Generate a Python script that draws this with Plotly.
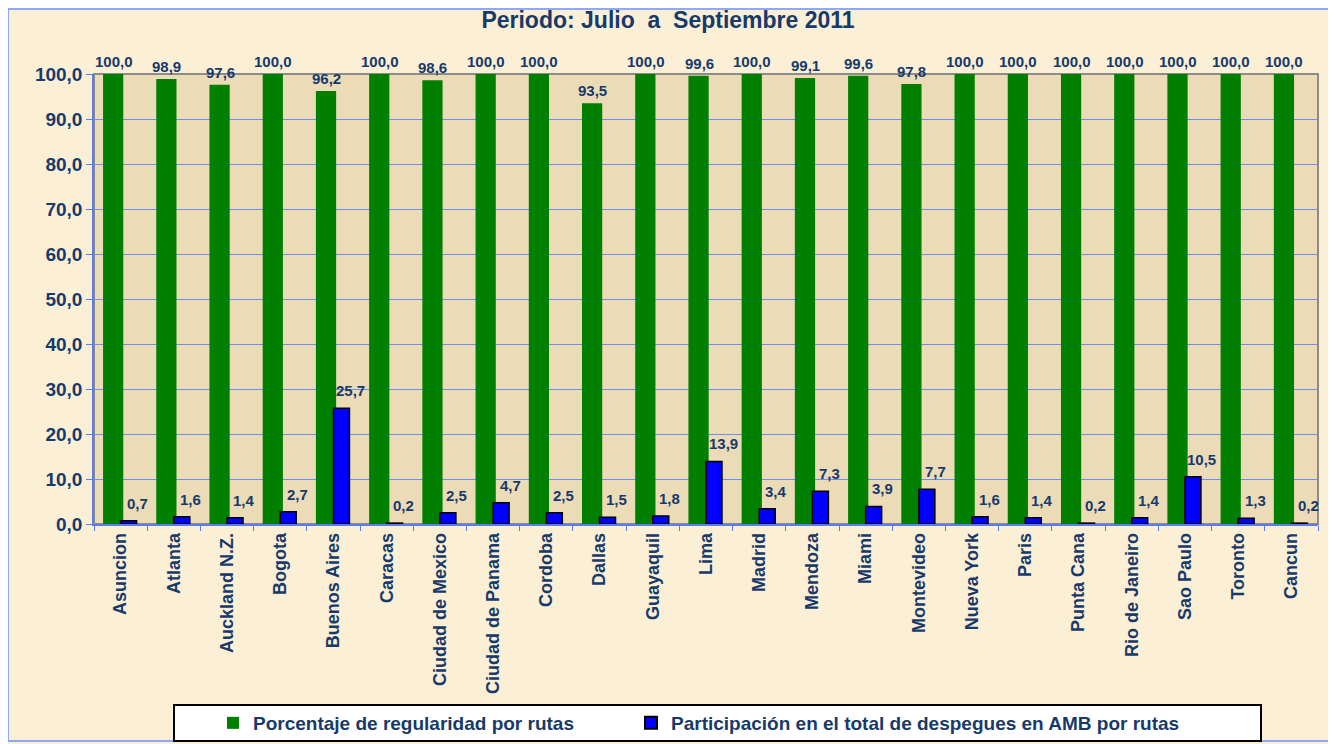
import plotly.graph_objects as go

categories = ["Asuncion", "Atlanta", "Auckland N.Z.", "Bogota", "Buenos Aires", "Caracas",
              "Ciudad de Mexico", "Ciudad de Panama", "Cordoba", "Dallas", "Guayaquil", "Lima",
              "Madrid", "Mendoza", "Miami", "Montevideo", "Nueva York", "Paris", "Punta Cana",
              "Rio de Janeiro", "Sao Paulo", "Toronto", "Cancun"]
regularidad = [100.0, 98.9, 97.6, 100.0, 96.2, 100.0, 98.6, 100.0, 100.0, 93.5, 100.0, 99.6,
               100.0, 99.1, 99.6, 97.8, 100.0, 100.0, 100.0, 100.0, 100.0, 100.0, 100.0]
participacion = [0.7, 1.6, 1.4, 2.7, 25.7, 0.2, 2.5, 4.7, 2.5, 1.5, 1.8, 13.9,
                 3.4, 7.3, 3.9, 7.7, 1.6, 1.4, 0.2, 1.4, 10.5, 1.3, 0.2]
series_names = ["Porcentaje de regularidad por rutas",
                "Participación en el total de despegues en AMB por rutas"]
title_text = "Periodo: Julio  a  Septiembre 2011"

FONT = "Liberation Sans, Arial, sans-serif"
NAVY = "#173A6A"

def fmt(v):
    return f"{v:.1f}".replace(".", ",")

# The page body adds an 8px offset; figure coordinates are screen minus 8.
OFF = 8
W, H = 1336 - OFF, 744 - OFF
L, R, T, B = 94 - OFF, 18, 74 - OFF, 220
pw, ph = W - L - R, H - T - B
def sx(x):  # screen x -> paper
    return (x - OFF - L) / pw
def sy(y):  # screen y -> paper
    return (H - B - (y - OFF)) / ph

fig = go.Figure()
fig.add_trace(go.Bar(
    x=categories, y=regularidad, name=series_names[0],
    marker=dict(color="#007F00", line=dict(width=0)),
    width=0.38, offset=-0.33, legend="legend", showlegend=True,
))
fig.add_trace(go.Bar(
    x=categories, y=participacion, name=series_names[1],
    marker=dict(color="#0000FF", line=dict(color="#000000", width=1.5)),
    width=0.30, offset=0.0, legend="legend2", showlegend=True,
))

annotations = []
for c, v in zip(categories, regularidad):
    annotations.append(dict(x=c, y=v, xref="x", yref="y", text=fmt(v), showarrow=False,
                            xshift=-7, yshift=2, yanchor="bottom",
                            font=dict(family=FONT, size=15, color=NAVY, weight="bold")))
for c, v in zip(categories, participacion):
    annotations.append(dict(x=c, y=v, xref="x", yref="y", text=fmt(v), showarrow=False,
                            xshift=17, yshift=7, yanchor="bottom",
                            font=dict(family=FONT, size=15, color=NAVY, weight="bold")))

shapes = [
    # outer frame
    dict(type="rect", xref="paper", yref="paper", x0=sx(8), x1=sx(1331), y0=sy(741), y1=sy(9),
         line=dict(color="#8FA8F8", width=2), fillcolor="rgba(0,0,0,0)", layer="below"),
    # plot area
    dict(type="rect", xref="x domain", yref="y domain", x0=0, x1=1, y0=0, y1=1,
         line=dict(color="#8C8C8C", width=2), fillcolor="#ECDBB7", layer="below"),
    # legend box
    dict(type="rect", xref="paper", yref="paper", x0=sx(174), x1=sx(1261), y0=sy(741), y1=sy(705),
         line=dict(color="#000000", width=2), fillcolor="#FFFFFF", layer="below"),
]

legend_font = dict(family=FONT, size=19, color=NAVY, weight="bold")
fig.update_layout(
    width=W, height=H,
    margin=dict(l=L, r=R, t=T, b=B, autoexpand=False),
    barmode="overlay",
    separators=",.",
    showlegend=True,
    paper_bgcolor="#FBEFD6",
    plot_bgcolor="rgba(0,0,0,0)",
    title=dict(text=title_text, x=(668 - OFF) / W, xref="container", xanchor="center",
               y=1 - (20 - OFF) / H, yref="container", yanchor="middle",
               font=dict(family=FONT, size=23, color=NAVY, weight="bold")),
    xaxis=dict(
        type="category", tickangle=-90, tickson="boundaries", ticks="outside", ticklen=5,
        tickcolor="#5C7CEB", showline=True, linecolor="#5C7CEB", linewidth=1.5,
        showgrid=False, range=[-0.5, len(categories) - 0.5], automargin=False,
        tickfont=dict(family=FONT, size=18, color=NAVY, weight="bold"),
    ),
    yaxis=dict(
        range=[0, 100], dtick=10, tickformat=".1f", ticks="outside", ticklen=6,
        tickcolor="#5C7CEB", showline=True, linecolor="#5C7CEB", linewidth=1.5,
        showgrid=True, gridcolor="#6F8FEF", gridwidth=1, zeroline=False, automargin=False,
        tickfont=dict(family=FONT, size=19, color=NAVY, weight="bold"),
    ),
    legend=dict(
        orientation="h", x=sx(213), xanchor="left", y=sy(723), yanchor="middle",
        bgcolor="rgba(0,0,0,0)", font=legend_font, itemsizing="constant", visible=True,
    ),
    legend2=dict(
        orientation="h", x=sx(631), xanchor="left", y=sy(723), yanchor="middle",
        bgcolor="rgba(0,0,0,0)", font=legend_font, itemsizing="constant", visible=True,
    ),
    annotations=annotations,
    shapes=shapes,
)
for tr in fig.data:
    tr.cliponaxis = False

fig.write_html("out.html")
